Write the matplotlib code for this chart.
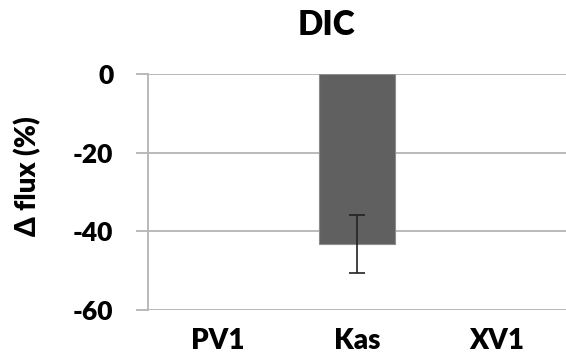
import matplotlib
matplotlib.use('Agg')
import numpy as np
from matplotlib import pyplot as plt

# data
categories = ['PV1', 'Kas', 'XV1']
delta_flux = [0.0, -43.2, 0.0]
errors = [0.0, 7.3, 0.0]
y_ticks = [0, -20, -40, -60]

plt.rcParams['font.family'] = ['Lato', 'DejaVu Sans']
weight = 'heavy'

fig = plt.figure(figsize=(5.66, 3.63), dpi=100)
ax = fig.add_axes([148 / 566, 1 - 310 / 363, 1 - 148 / 566, (310 - 74) / 363])

x = np.arange(len(categories))
ax.bar(x[1], delta_flux[1], width=0.54, color='#606060', edgecolor='#8c8c8c',
       linewidth=0.8, zorder=3)
ax.errorbar(x[1], delta_flux[1], yerr=errors[1], fmt='none', ecolor='#222222',
            elinewidth=1.2, capsize=6, capthick=1.2, zorder=4)

ax.set_xlim(-0.5, 2.5)
ax.set_ylim(-60, 0)
ax.set_yticks(y_ticks)
ax.set_yticklabels([str(v) for v in y_ticks], fontsize=19, fontweight=weight)
ax.set_xticks(x)
ax.set_xticklabels(categories, fontsize=20, fontweight=weight)

# grid + spines in the excel style
ax.yaxis.grid(True, color='#b4b4b4', linewidth=1.3, zorder=0)
ax.set_axisbelow(True)
for side in ['top', 'right', 'bottom']:
    ax.spines[side].set_visible(False)
ax.spines['left'].set_color('#b4b4b4')
ax.spines['left'].set_linewidth(1.3)
ax.tick_params(axis='y', length=9, width=1.3, color='#b4b4b4', pad=16)
ax.tick_params(axis='x', length=0, pad=13)

fig.text(28 / 566, 1 - 176 / 363, 'Δ flux (%)', rotation=90, ha='center', va='center',
         fontsize=20, fontweight=weight)
fig.text(326 / 566, 1 - 25 / 363, 'DIC', ha='center', va='center',
         fontsize=24, fontweight=weight)

fig.savefig('out.png', dpi=100)
